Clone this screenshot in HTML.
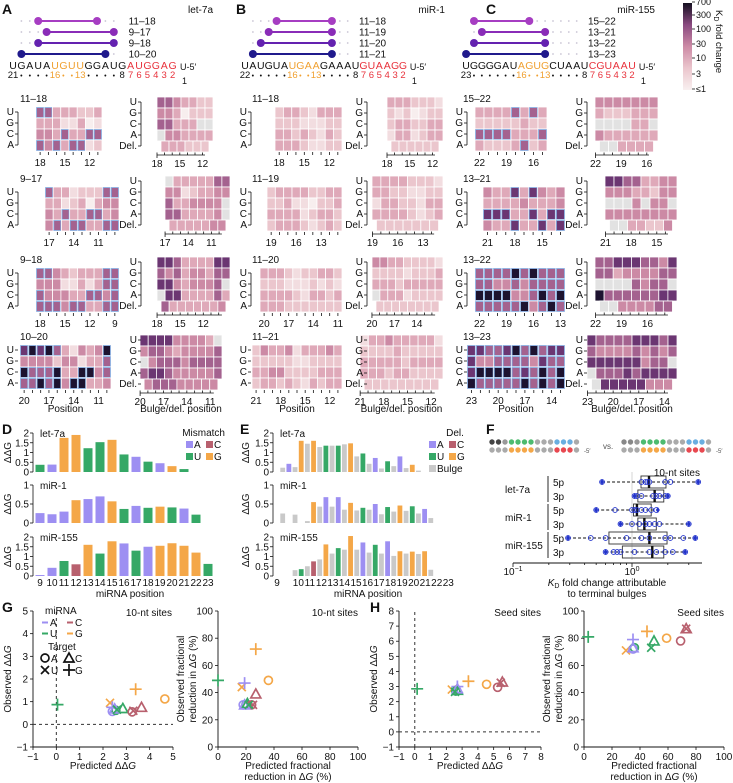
<!DOCTYPE html>
<html><head><meta charset="utf-8">
<style>
html,body{margin:0;padding:0;background:#fff;}
svg{display:block;font-family:"Liberation Sans",sans-serif;}
text{font-family:"Liberation Sans",sans-serif;}
</style></head>
<body>
<svg id="fig" width="733" height="783" viewBox="0 0 733 783" xmlns="http://www.w3.org/2000/svg">
<defs>
<linearGradient id="cbar" x1="0" y1="1" x2="0" y2="0">
<stop offset="0" stop-color="#f8f0f0"/><stop offset="0.25" stop-color="#ebc6cd"/><stop offset="0.5" stop-color="#cc8aa5"/><stop offset="0.75" stop-color="#8a4a80"/><stop offset="1" stop-color="#141020"/>
</linearGradient>
</defs>
</svg>
<script>
// ---------- DATA ----------
const heatLevels = ['#f7eeee','#f2dde0','#ebc6cd','#dfa9b9','#cc8aa5','#a4628f','#6b3672','#1d1330'];
const siteLabels = [['11–18','9–17','9–18','10–20'],['11–18','11–19','11–20','11–21'],['15–22','13–21','13–22','13–23']];
const siteStart = [[18,17,18,20],[18,19,20,21],[22,21,22,23]];
const heatL = [
 [["55333223","33311301","44353355","54535512"],["533122255","331230344","435335534","453553355"],["5543233355","4441131355","5444335545","5554553355"],["67675314347","44442441335","75557337745","55757477334"]],
 [["23321333","22211122","33232132","33321122"],["233332233","223110223","333312332","233321232"],["3332122332","2221112121","3333213323","3332222222"],["24334133343","22222112222","33442222333","23323213233"]],
 [["33335353","22222322","55553335","32223523"],["433636434","333343334","666336366","433633636"],["5555757555","5544545555","7777445757","5555574575"],["66556757566","64455554655","67777565757","75555575757"]]
];
const heatR = [
 [["5543322","4430222","55333xx","x443333","333222"],["x3333355","44123344","5334444x","5533334x","3333344"],["665333366","545344355","66434445x","x66333353","53333334"],["666644443x","4554344445","x455545555","5665444445","455544444"]],
 [["3332221","2120122","2332233","1331233","222222"],["33332221","33221122","13322133","33332123","2222222"],["443322221","222212223","333233333","x33312222","22222222"],["1334333331","2222322222","3333323333","3332332222","222222222"]],
 [["4444444","3222333","xxxx33x","4333333","xx3333"],["66553344","44433244","xxx4x44x","44444444","xx33224"],["556665546","553444455","xxxx5455x","755555566","xx444455"],["6555566656","5444454545","666666455x","x555656666","x66666444"]]
];
const positions = [9,10,11,12,13,14,15,16,17,18,19,20,21,22,23];
const dLet7 = [0.37,0.38,1.75,1.9,1.22,1.53,1.65,0.9,0.78,0.53,0.45,0.3,0.15,null,null];
const dLet7Nt = ['U','A','G','G','U','U','G','U','A','U','A','G','U','',''];
const dMiR1 = [0.26,0.23,0.3,0.6,0.63,0.7,0.57,0.37,0.45,0.4,0.43,0.41,0.38,0.22,null];
const dMiR1Nt = ['A','A','A','G','A','A','G','U','A','U','G','U','A','U',''];
const dMiR155 = [0.05,0.42,0.77,0.6,1.6,1.15,1.78,1.67,1.3,1.5,1.55,1.68,1.55,1.2,0.62];
const dMiR155Nt = ['A','A','U','C','G','U','G','A','U','A','G','G','G','G','U'];
const eLet7 = [0.22,0.42,0.25,1.6,1.45,1.6,1.28,1.35,1.35,1.35,1.42,1.47,0.8,0.95,0.42,0.72,0.18,0.55,0.3,0.8,0.2,0.37,0.07,null,null];
const eLet7Nt = ['B','A','B','G','B','G','B','U','B','U','B','G','B','U','B','A','B','U','B','A','B','G','B','',''];
const eMiR1 = [0.25,null,0.22,null,0.05,0.55,0.43,0.68,0.43,0.68,0.35,0.53,0.33,0.4,0.35,0.5,0.23,0.42,0.3,0.46,0.32,0.44,0.25,0.37,0.13];
const eMiR1Nt = ['B','','B','','B','G','B','A','B','A','B','G','B','U','B','A','B','U','B','G','B','U','B','A','B'];
const eMiR155 = [null,null,0.3,0.35,0.5,0.75,0.85,1.62,1.15,1.43,1.35,2.05,1.35,1.72,1.2,1.6,1.15,1.78,1.03,1.27,1.15,1.25,1.13,1.27,0.32];
const eMiR155Nt = ['','','B','U','B','C','B','G','B','U','B','G','B','A','B','U','B','A','B','G','B','G','B','G','B'];
const fRows = ['let-7a 5p','let-7a 3p','miR-1 5p','miR-1 3p','miR-155 5p','miR-155 3p'];
const fMin = [0.56,1.05,0.5,0.8,0.29,0.6];
const fQ1 = [1.19,1.12,1.03,1.12,0.64,0.83];
const fMed = [1.39,1.55,1.1,1.27,1.4,1.48];
const fQ3 = [1.93,1.85,1.45,1.6,1.97,1.85];
const fMax = [3.6,2.0,1.65,3.0,3.4,2.8];
const fPts = [[0.56,1.2,1.3,1.35,1.4,1.9,2.1,3.6],[1.05,1.1,1.2,1.5,1.6,1.7,1.9,2.0],[0.5,0.72,1.0,1.05,1.1,1.2,1.3,1.45,1.6],[0.8,1.0,1.15,1.3,1.4,1.55,1.7,3.0],[0.29,0.45,0.6,0.9,1.2,1.4,1.9,2.1,2.7,3.4],[0.6,0.7,0.75,0.8,1.05,1.4,1.6,1.9,2.2,2.8]];
const sMir = ['U','G','A','A','U','U','C','C','G','C','G','A','U'];
const sTgt = ['G','U','G','A','A','C','A','U','G','C','A','C','U'];
const gPredDDG = [0.05,2.3,2.4,2.4,2.55,2.85,3.25,3.3,3.4,3.65,4.65,2.5,2.6];
const gObsDDG = [0.87,0.95,0.75,0.57,0.62,0.7,0.55,0.6,1.55,0.75,1.12,0.68,0.65];
const gPredFrac = [0,17,19,18,20,21,24,25,27,27,36,19,22];
const gObsFrac = [49,44,47,31,31,32,31,31,72,39,49,31,31];
const hPredDDG = [0.15,2.35,2.7,2.65,2.6,2.7,5.25,5.45,3.4,5.55,4.55,2.7,2.55];
const hObsDDG = [2.85,2.8,3.0,2.75,2.7,2.75,2.95,3.25,3.35,3.3,3.15,2.85,2.65];
const hPredFrac = [3,30,35,35,36,50,69,73,45,73,59,35,48];
const hObsFrac = [81,71,79,72,73,78,78,87,85,87,80,73,73];

// ---------- helpers ----------
const svg = document.getElementById('fig');
const NS = 'http://www.w3.org/2000/svg';
function el(tag, attrs, parent){ const e=document.createElementNS(NS,tag); for(const k in attrs) e.setAttribute(k,attrs[k]); (parent||svg).appendChild(e); return e; }
function txt(x,y,s,size,attrs,parent){ const t=el('text',Object.assign({x:x,y:y,'font-size':size||9.5,fill:'#111'},attrs||{}),parent); t.textContent=s; return t; }
const ntColor = {A:'#9d8ff2',C:'#b8606e',U:'#35a866',G:'#f4a748',B:'#c9c9c9'};
function lvlColor(c){ return c==='x' ? '#e2e2e2' : heatLevels[+c]; }

[['A',2,14],['B',236,14],['C',486,14],['D',2,434],['E',240,434],['F',486,434],['G',2,612],['H',370,612]].forEach(function(d){
  const t=txt(d[1],d[2],d[0],14,{'font-weight':'bold'});
  
  
});

const seqs = ['UGAUAUGUUGGAUGAUGGAG','UAUGUAUGAAGAAAUGUAAGG','UGGGGAUAGUGCUAAUCGUAAU'];
const seqFirst = [21,22,23];
const seqX = [function(p){return 13+(21-p)*8.4;}, function(p){return 245+(22-p)*7.9;}, function(p){return 632-(p-2)*7.9;}];
const miRNames = ['let-7a','miR-1','miR-155'];
const nameRight = [213,445,655];
const lineEnds = [[[18,11],[17,9],[18,9],[20,10]],[[18,11],[19,11],[20,11],[21,11]],[[22,15],[21,13],[22,13],[23,13]]];
const lineCols = ['#a63dc2','#8a2cb8','#6422b0','#201a8c'];
const lineY = [21,32,43,54];
for(let p=0;p<3;p++){
  const g=el('g',{});
  
  
  const X=seqX[p];
  txt(nameRight[p],13,miRNames[p],10,{'text-anchor':'end'},g);
  for(let r=0;r<4;r++){
    for(let q=seqFirst[p]-1;q>=9;q--) el('circle',{cx:X(q),cy:lineY[r],r:0.9,fill:'#c9c4d4'},g);
    const a=lineEnds[p][r][0], b=lineEnds[p][r][1];
    el('line',{x1:X(a),y1:lineY[r],x2:X(b),y2:lineY[r],stroke:lineCols[r],'stroke-width':2},g);
    el('circle',{cx:X(a),cy:lineY[r],r:4,fill:lineCols[r]},g);
    el('circle',{cx:X(b),cy:lineY[r],r:4,fill:lineCols[r]},g);
    txt(X(2)-44,lineY[r]+3.5,siteLabels[p][r],10,{},g);
  }
  const s=seqs[p];
  for(let i=0;i<s.length;i++){
    const pos=seqFirst[p]-i;
    let c='#111'; if(pos>=13&&pos<=16) c='#f0a030'; else if(pos<=7) c='#e8323c';
    txt(X(pos),69,s[i],10.5,{'text-anchor':'middle',fill:c},g);
    let lab='•', lc='#111', fs=7;
    if(pos===seqFirst[p]){lab=String(pos);fs=9.5;}
    else if(pos===16||pos===13){lab=String(pos);lc='#f0a030';fs=9.5;}
    else if(pos===14||pos===15){lab='•';lc='#f0a030';}
    else if(pos===8){lab='8';fs=9.5;}
    else if(pos<=7){lab=String(pos);lc='#e8323c';fs=9.5;}
    txt(X(pos),78,lab,fs,{'text-anchor':'middle',fill:lc},g);
  }
  txt(X(1)-1,70,'U-5′',9,{},g);
  txt(X(1)+1,84,'1',9,{},g);
}

(function(){
  const g=el('g',{});  
  el('rect',{x:683,y:3,width:9,height:87,fill:'url(#cbar)'},g);
  const ticks=['700','300','100','30','10','3','≤1']; const ys=[5,18,32,47,61,77,92];
  ticks.forEach(function(t,i){ el('line',{x1:692,y1:ys[i]-3,x2:695,y2:ys[i]-3,stroke:'#111','stroke-width':0.8},g); txt(696,ys[i],t,9,{},g); });
  const l=txt(0,0,'',9.5,{transform:'translate(716,10) rotate(90)'},g);
  l.innerHTML='<tspan>K</tspan><tspan font-size="7" dy="2">D</tspan><tspan dy="-2"> fold change</tspan>';
})();

const geomL=[[[36,102],[45,119],[36,119],[20,111]],[[275,342],[267,342],[260,342],[252,342]],[[475,547],[483,565],[475,565],[467,565]]];
const geomR=[[[157,213],[165,230],[157,230],[140,222]],[[387,443],[372,443],[372,443],[360,443]],[[595,658],[605,677],[595,677],[587,677]]];
const rowYL=[107,187,268,345], rowYR=[97,176,257,335], CH=11;
const labRightL=[14,247,463], labRightR=[137,363,583], siteLabX=[20,252,463];
const rowNamesL=['U','G','C','A'], rowNamesR=['U','G','C','A','Del.'];
for(let p=0;p<3;p++){
  for(let r=0;r<4;r++){
    const gL=el('g',{});
    
    
    const x0=geomL[p][r][0], x1=geomL[p][r][1], dat=heatL[p][r], n=dat[0].length, cw=(x1-x0)/n, y0=rowYL[r];
    txt(siteLabX[p],y0-5,siteLabels[p][r],10,{},gL);
    for(let i=0;i<4;i++){
      for(let j=0;j<n;j++){
        const c=dat[i][j];
        el('rect',{x:x0+j*cw,y:y0+i*CH,width:cw,height:CH,fill:lvlColor(c),stroke:'#fff','stroke-width':0.8},gL);
        if(c!=='x' && +c>=5) el('rect',{x:x0+j*cw+0.6,y:y0+i*CH+0.6,width:cw-1.2,height:CH-1.2,fill:'none',stroke:'#7fa9e0','stroke-width':0.8},gL);
      }
      txt(labRightL[p],y0+i*CH+8,rowNamesL[i],10,{'text-anchor':'end'},gL);
      el('line',{x1:labRightL[p]+1,y1:y0+i*CH+5,x2:labRightL[p]+4,y2:y0+i*CH+5,stroke:'#111','stroke-width':0.8},gL);
    }
    if(r<3) el('line',{x1:labRightL[p]+4,y1:y0+5,x2:labRightL[p]+4,y2:y0+3*CH+5,stroke:'#111','stroke-width':0.8},gL);
    for(let j=0;j<n;j++){
      el('line',{x1:x0+(j+0.5)*cw,y1:y0+4*CH+1,x2:x0+(j+0.5)*cw,y2:y0+4*CH+4,stroke:'#111','stroke-width':0.8},gL);
      if(j%3===0) txt(x0+(j+0.5)*cw,y0+4*CH+15,String(siteStart[p][r]-j),10,{'text-anchor':'middle'},gL);
    }
    if(r===3) txt((x0+x1)/2,412,'Position',10,{'text-anchor':'middle'},gL);
    const gR=el('g',{});
    
    
    const rx0=geomR[p][r][0], rx1=geomR[p][r][1], rd=heatR[p][r], rn=rd[0].length, rcw=(rx1-rx0)/rn, ry0=rowYR[r];
    for(let i=0;i<5;i++){
      const row=rd[i], off=(i===4)?rcw*0.5:0;
      for(let j=0;j<row.length;j++){
        el('rect',{x:rx0+off+j*rcw,y:ry0+i*CH,width:rcw,height:CH,fill:lvlColor(row[j]),stroke:'#fff','stroke-width':0.8},gR);
      }
      txt(labRightR[p],ry0+i*CH+8,rowNamesR[i],10,{'text-anchor':'end'},gR);
      el('line',{x1:labRightR[p]+1,y1:ry0+i*CH+5,x2:labRightR[p]+4,y2:ry0+i*CH+5,stroke:'#111','stroke-width':0.8},gR);
    }
    if(r<3) el('line',{x1:labRightR[p]+4,y1:ry0+5,x2:labRightR[p]+4,y2:ry0+4*CH+5,stroke:'#111','stroke-width':0.8},gR);
    const ay=ry0+5*CH+3, ax0=rx0+rcw*0.5-4;
    el('line',{x1:ax0,y1:ay,x2:rx1-rcw,y2:ay,stroke:'#111','stroke-width':0.8},gR);
    el('line',{x1:ax0,y1:ay,x2:ax0,y2:ay+3,stroke:'#111','stroke-width':0.8},gR);
    for(let j=0;j<rn;j++){
      const tx=ax0+j*rcw*0.95;
      el('line',{x1:tx,y1:ay,x2:tx,y2:ay-2.5,stroke:'#111','stroke-width':0.8},gR);
      if(j%3===0) txt(tx,ay+12,String(siteStart[p][r]-j),10,{'text-anchor':'middle'},gR);
    }
    if(r===3) txt((rx0+rx1)/2,412,'Bulge/del. position',10,{'text-anchor':'middle'},gR);
  }
}

const subY=[{z:472,s:19.5,ticks:[0,0.5,1,1.5,2],labs:['0','0.5','1','1.5','2'],t:'let-7a'},{z:523,s:38,ticks:[0,0.5,1],labs:['0','0.5','1'],t:'miR-1'},{z:576,s:19.5,ticks:[0,0.5,1,1.5,2],labs:['0','0.5','1','1.5','2'],t:'miR-155'}];
function drawAxis(g,ax,k,titleX){
  const Y=subY[k];
  el('line',{x1:ax,y1:Y.z,x2:ax,y2:Y.z-Y.ticks[Y.ticks.length-1]*Y.s,stroke:'#111','stroke-width':0.8},g);
  Y.ticks.forEach(function(v,i){
    const y=Y.z-v*Y.s;
    el('line',{x1:ax-3,y1:y,x2:ax,y2:y,stroke:'#111','stroke-width':0.8},g);
    txt(ax-4,y+3.5,Y.labs[i],10,{'text-anchor':'end'},g);
  });
  txt(0,0,'ΔΔG',10,{'text-anchor':'middle',transform:'translate('+titleX+','+(Y.z-Y.ticks[Y.ticks.length-1]*Y.s/2)+') rotate(-90)'},g);
  txt(ax+7,Y.z-Y.ticks[Y.ticks.length-1]*Y.s+4,Y.t,10,{},g);
}
const dVals=[dLet7,dMiR1,dMiR155], dNts=[dLet7Nt,dMiR1Nt,dMiR155Nt];
const eVals=[eLet7,eMiR1,eMiR155], eNts=[eLet7Nt,eMiR1Nt,eMiR155Nt];
function xD(p){return 40+(p-9)*12;}
function xE(i){return 282.7+i*6.17;}
for(let k=0;k<3;k++){
  const g=el('g',{});  
  drawAxis(g,33,k,11);
  positions.forEach(function(p,i){
    const v=dVals[k][i]; if(v===null) return;
    const b=el('rect',{x:xD(p)-4.5,y:subY[k].z-v*subY[k].s,width:9,height:v*subY[k].s,fill:ntColor[dNts[k][i]]},g);
    
    
  });
  const g2=el('g',{});  
  drawAxis(g2,273,k,249);
  eVals[k].forEach(function(v,i){
    if(v===null) return;
    const b=el('rect',{x:xE(i)-2.4,y:subY[k].z-v*subY[k].s,width:4.8,height:v*subY[k].s,fill:ntColor[eNts[k][i]]},g2);
    
    
  });
}
positions.forEach(function(p){ txt(xD(p),586,String(p),10,{'text-anchor':'middle'}); });
txt(130,597,'miRNA position',10,{'text-anchor':'middle'});
positions.forEach(function(p){ const x = p===9 ? 277 : 240+(175+(p-10)*34.6)/3; txt(x,586,String(p),10,{'text-anchor':'middle'}); });
txt(368,597,'miRNA position',10,{'text-anchor':'middle'});
(function(){
  const g=el('g',{});  
  txt(225,436,'Mismatch',10,{'text-anchor':'end'},g);
  [['A',186,441],['C',206,441],['U',186,453],['G',206,453]].forEach(function(d){ el('rect',{x:d[1],y:d[2],width:7,height:7,fill:ntColor[d[0]]},g); txt(d[1]+8,d[2]+7,d[0],10,{},g); });
  const g2=el('g',{});  
  txt(455,436,'Del.',10,{'text-anchor':'middle'},g2);
  [['A',429,441],['C',449,441],['U',429,453],['G',449,453]].forEach(function(d){ el('rect',{x:d[1],y:d[2],width:7,height:7,fill:ntColor[d[0]]},g2); txt(d[1]+8,d[2]+7,d[0],10,{},g2); });
  el('rect',{x:429,y:465,width:7,height:7,fill:ntColor.B},g2); txt(437,472,'Bulge',10,{},g2);
})();

(function(){
  const g=el('g',{});  
  function cart(x0,dark){
    const cols=['#888','#888','#999','#4dbb6f','#4dbb6f','#4dbb6f','#4dbb6f','#aaa','#aaa','#aaa','#6aaee0','#6aaee0','#6aaee0','#aaa'];
    const cols2=['#aaa','#aaa','#aaa','#f4a748','#f4a748','#f4a748','#f4a748','#aaa','#aaa','#aaa','#e84850','#e84850','#e84850','#aaa'];
    for(let i=0;i<14;i++){
      el('circle',{cx:x0+i*6.5,cy:442,r:2.7,fill:(i<2&&dark)?'#444':cols[i]},g);
      el('circle',{cx:x0+i*6.5,cy:450,r:2.7,fill:cols2[i]},g);
    }
    txt(x0+92,453,'-5′',6,{fill:'#555'},g);
  }
  cart(492,true); txt(603,449,'vs.',8,{fill:'#555'},g); cart(624,false);
  const lx=function(v){return 632+Math.log10(v)*119;};
  const rowY=[482,496,510,524,538,552];
  el('line',{x1:632,y1:472,x2:632,y2:560,stroke:'#ccc','stroke-width':0.8},g);
  for(let i=0;i<6;i++){
    const y=rowY[i];
    el('line',{x1:lx(fMin[i]),y1:y,x2:lx(fMax[i]),y2:y,stroke:'#111','stroke-width':0.9,'stroke-dasharray':'3,2'},g);
    el('rect',{x:lx(fQ1[i]),y:y-6,width:lx(fQ3[i])-lx(fQ1[i]),height:12,fill:'none',stroke:'#333','stroke-width':0.9},g);
    el('line',{x1:lx(fMed[i]),y1:y-6,x2:lx(fMed[i]),y2:y+6,stroke:'#111','stroke-width':2.4},g);
    fPts[i].forEach(function(v){ el('circle',{cx:lx(v),cy:y,r:2.4,fill:'none',stroke:'#2233cc','stroke-width':0.9},g); });
    el('path',{d:'M'+lx(fMin[i])+' '+(y-3)+'l2 3l-2 3l-2 -3z',fill:'#2233cc'},g);
    el('path',{d:'M'+lx(fMax[i])+' '+(y-3)+'l2 3l-2 3l-2 -3z',fill:'#2233cc'},g);
    txt(553,y+4,i%2===0?'5p':'3p',10,{},g);
  }
  [['let-7a',489],['miR-1',517],['miR-155',545]].forEach(function(d,i){
    txt(505,d[1]+4,d[0],10,{},g);
    el('line',{x1:548,y1:rowY[2*i]-6,x2:548,y2:rowY[2*i+1]+6,stroke:'#111','stroke-width':0.9},g);
  });
  txt(700,476,'10-nt sites',10,{'text-anchor':'end'},g);
  el('line',{x1:513,y1:563,x2:702,y2:563,stroke:'#111','stroke-width':0.9},g);
  for(let d=-1;d<=0;d++){ for(let m=1;m<10;m++){ const x=632+(d+Math.log10(m))*119; if(x>702) break; el('line',{x1:x,y1:563,x2:x,y2:m===1?567:565,stroke:'#111','stroke-width':0.8},g);} }
  const t1=txt(513,575,'',10,{'text-anchor':'middle'},g); t1.innerHTML='10<tspan font-size="7" dy="-4">−1</tspan>';
  const t2=txt(632,575,'',10,{'text-anchor':'middle'},g); t2.innerHTML='10<tspan font-size="7" dy="-4">0</tspan>';
  const t3=txt(607,586,'',10,{'text-anchor':'middle'},g); t3.innerHTML='<tspan font-style="italic">K</tspan><tspan font-size="7" dy="2">D</tspan><tspan dy="-2"> fold change attributable</tspan>';
  txt(607,597,'to terminal bulges',10,{'text-anchor':'middle'},g);
})();

function marker(g,x,y,tgt,col){
  const a={fill:'none',stroke:col,'stroke-width':1.7};
  if(tgt==='A') el('circle',Object.assign({cx:x,cy:y,r:4},a),g);
  else if(tgt==='C') el('path',Object.assign({d:'M'+x+' '+(y-5)+'L'+(x+5)+' '+(y+4)+'L'+(x-5)+' '+(y+4)+'Z'},a),g);
  else if(tgt==='U') el('path',Object.assign({d:'M'+(x-4)+' '+(y-4)+'L'+(x+4)+' '+(y+4)+'M'+(x+4)+' '+(y-4)+'L'+(x-4)+' '+(y+4)},a),g);
  else el('path',Object.assign({d:'M'+(x-6)+' '+y+'L'+(x+6)+' '+y+'M'+x+' '+(y-6)+'L'+x+' '+(y+6)},a),g);
}
function scatter(name,px0,px1,py0,py1,xmin,xmax,ymin,ymax,xt,yt,xs,ys,dashed,xtitle,ytitle,note,noteX){
  const g=el('g',{});  
  const X=function(v){return px0+(v-xmin)/(xmax-xmin)*(px1-px0);}, Y=function(v){return py0-(v-ymin)/(ymax-ymin)*(py0-py1);};
  el('line',{x1:px0,y1:py0,x2:px1,y2:py0,stroke:'#111','stroke-width':0.9},g);
  el('line',{x1:px0,y1:py0,x2:px0,y2:py1,stroke:'#111','stroke-width':0.9},g);
  xt.forEach(function(v){ el('line',{x1:X(v),y1:py0,x2:X(v),y2:py0+3,stroke:'#111','stroke-width':0.8},g); txt(X(v),py0+13,v<0?'−'+(-v):String(v),10,{'text-anchor':'middle'},g); });
  yt.forEach(function(v){ el('line',{x1:px0-3,y1:Y(v),x2:px0,y2:Y(v),stroke:'#111','stroke-width':0.8},g); txt(px0-5,Y(v)+3.5,v<0?'−'+(-v):String(v),10,{'text-anchor':'end'},g); });
  if(dashed){
    el('line',{x1:X(0),y1:py0,x2:X(0),y2:py1,stroke:'#333','stroke-width':1,'stroke-dasharray':'3,3'},g);
    el('line',{x1:px0,y1:Y(0),x2:px1,y2:Y(0),stroke:'#333','stroke-width':1,'stroke-dasharray':'3,3'},g);
  }
  for(let i=0;i<xs.length;i++){
    marker(g,X(xs[i]),Y(ys[i]),sTgt[i],ntColor[sMir[i]]);
  }
  xtitle.forEach(function(s,i){ const t=txt((px0+px1)/2,py0+22+i*11,'',10,{'text-anchor':'middle'},g); t.innerHTML=s; });
  ytitle.forEach(function(s,i){ const t=txt(0,0,'',10,{'text-anchor':'middle',transform:'translate('+(px0-(ytitle.length===1?22:34)+i*12)+','+((py0+py1)/2)+') rotate(-90)'},g); t.innerHTML=s; });
  txt(noteX,py1+5,note,10,{'text-anchor':'end'},g);
}
const dd='ΔΔ<tspan font-style="italic">G</tspan>';
scatter('scatter-g-ddg',33,173,747,611,-1,5,-1,5,[-1,0,1,2,3,4,5],[-1,0,1,2,3,4,5],gPredDDG,gObsDDG,true,['Predicted '+dd],['Observed '+dd],'10-nt sites',172);
scatter('scatter-g-frac',218,358,747,611,0,100,0,100,[0,20,40,60,80,100],[0,20,40,60,80,100],gPredFrac,gObsFrac,false,['Predicted fractional','reduction in Δ<tspan font-style="italic">G</tspan> (%)'],['Observed fractional','reduction in Δ<tspan font-style="italic">G</tspan> (%)'],'10-nt sites',358);
scatter('scatter-h-ddg',399,541,747,611,-1,8,-1,8,[-1,0,1,2,3,4,5,6,7,8],[-1,0,1,2,3,4,5,6,7,8],hPredDDG,hObsDDG,true,['Predicted '+dd],['Observed '+dd],'Seed sites',541);
scatter('scatter-h-frac',584,724,747,611,0,100,0,100,[0,20,40,60,80,100],[0,20,40,60,80,100],hPredFrac,hObsFrac,false,['Predicted fractional','reduction in Δ<tspan font-style="italic">G</tspan> (%)'],['Observed fractional','reduction in Δ<tspan font-style="italic">G</tspan> (%)'],'Seed sites',724);
(function(){
  const g=el('g',{});  
  txt(45,614,'miRNA',10,{},g);
  [['A',42,626],['C',67,626],['U',42,637],['G',67,637]].forEach(function(d){ el('line',{x1:d[1],y1:d[2]-3.5,x2:d[1]+6,y2:d[2]-3.5,stroke:ntColor[d[0]],'stroke-width':2},g); txt(d[1]+8,d[2],d[0],10,{},g); });
  txt(48,650,'Target',10,{},g);
  marker(g,45,658,'A','#111'); txt(51,662,'A',10,{},g);
  marker(g,69,658,'C','#111'); txt(75,662,'C',10,{},g);
  marker(g,45,670,'U','#111'); txt(51,674,'U',10,{},g);
  marker(g,69,670,'G','#111'); txt(75,674,'G',10,{},g);
})();
</script>
</body></html>
